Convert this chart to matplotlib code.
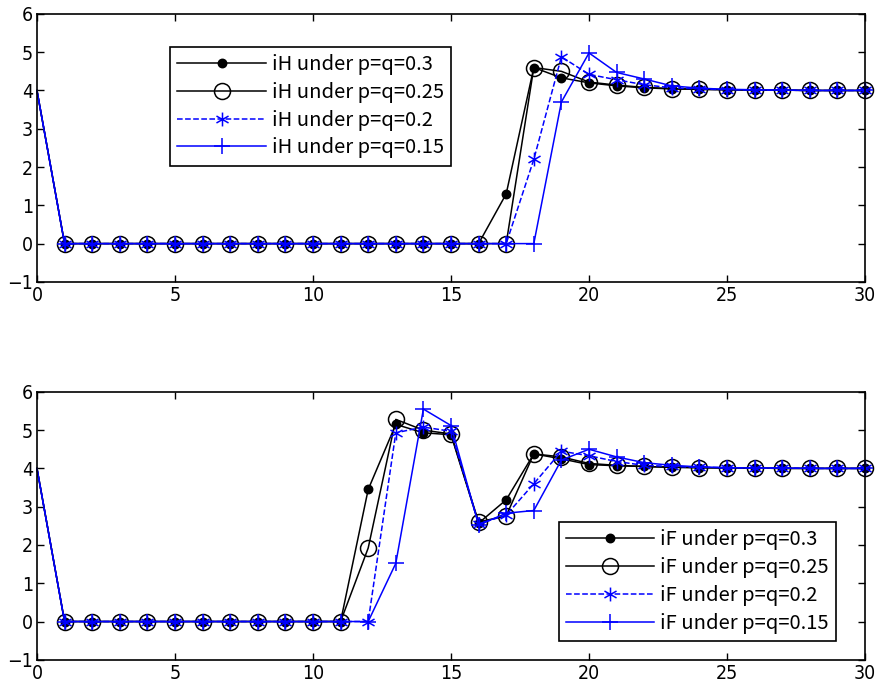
import matplotlib
matplotlib.use("Agg")
import matplotlib.pyplot as plt
from matplotlib.path import Path
from matplotlib import font_manager

x = list(range(31))

# top panel: iH
ih_03 = [4, 0, 0, 0, 0, 0, 0, 0, 0, 0, 0, 0, 0, 0, 0, 0, 0,
         1.3, 4.6, 4.33, 4.2, 4.12, 4.07, 4.04, 4.03, 4.02, 4.01, 4.01, 4.0, 4.0, 4.0]
ih_025 = [4, 0, 0, 0, 0, 0, 0, 0, 0, 0, 0, 0, 0, 0, 0, 0, 0,
          0, 4.6, 4.5, 4.22, 4.14, 4.08, 4.05, 4.03, 4.02, 4.01, 4.01, 4.0, 4.0, 4.0]
ih_02 = [4, 0, 0, 0, 0, 0, 0, 0, 0, 0, 0, 0, 0, 0, 0, 0, 0,
         0, 2.2, 4.88, 4.42, 4.28, 4.15, 4.07, 4.04, 4.02, 4.01, 4.01, 4.0, 4.0, 4.0]
ih_015 = [4, 0, 0, 0, 0, 0, 0, 0, 0, 0, 0, 0, 0, 0, 0, 0, 0,
          0, 0, 3.7, 4.98, 4.47, 4.3, 4.12, 4.06, 4.03, 4.02, 4.01, 4.0, 4.0, 4.0]

# bottom panel: iF
if_03 = [4, 0, 0, 0, 0, 0, 0, 0, 0, 0, 0, 0,
         3.45, 5.15, 4.93, 4.88, 2.57, 3.18, 4.38, 4.25, 4.1, 4.07, 4.05, 4.03,
         4.02, 4.01, 4.01, 4.0, 4.0, 4.0, 4.0]
if_025 = [4, 0, 0, 0, 0, 0, 0, 0, 0, 0, 0, 0,
          1.92, 5.28, 5.0, 4.9, 2.6, 2.76, 4.38, 4.3, 4.13, 4.08, 4.05, 4.03,
          4.02, 4.01, 4.01, 4.0, 4.0, 4.0, 4.0]
if_02 = [4, 0, 0, 0, 0, 0, 0, 0, 0, 0, 0, 0,
         0, 4.93, 5.08, 4.97, 2.55, 2.78, 3.6, 4.45, 4.33, 4.18, 4.08, 4.05,
         4.03, 4.02, 4.01, 4.01, 4.0, 4.0, 4.0]
if_015 = [4, 0, 0, 0, 0, 0, 0, 0, 0, 0, 0, 0,
          0, 1.52, 5.55, 5.12, 2.52, 2.83, 2.9, 4.22, 4.5, 4.3, 4.15, 4.08,
          4.04, 4.02, 4.01, 4.01, 4.0, 4.0, 4.0]

labels = ["under p=q=0.3", "under p=q=0.25", "under p=q=0.2", "under p=q=0.15"]

# matlab style asterisk
star = Path([(0, -1), (0, 1), (-0.87, -0.5), (0.87, 0.5), (-0.87, 0.5), (0.87, -0.5)],
            [Path.MOVETO, Path.LINETO, Path.MOVETO, Path.LINETO, Path.MOVETO, Path.LINETO])

styles = [
    dict(color="black", ls="-", marker="o", ms=6, mfc="black"),
    dict(color="black", ls="-", marker="o", ms=11.5, mfc="none"),
    dict(color="blue", ls="--", marker=star, ms=10),
    dict(color="blue", ls="-", marker="+", ms=12),
]

# narrow font for tick labels if one is around
names = {f.name for f in font_manager.fontManager.ttflist}
tick_prop = font_manager.FontProperties(family="DejaVu Sans", stretch="condensed", size=14)
if "Liberation Sans Narrow" in names:
    tick_prop = font_manager.FontProperties(family="Liberation Sans Narrow", size=14)
leg_font = ["Noto Sans CJK JP", "DejaVu Sans"]

fig = plt.figure(figsize=(8.8, 6.96), dpi=100)
ax1 = fig.add_axes([0.042, 0.595, 0.941, 0.385])
ax2 = fig.add_axes([0.042, 0.052, 0.941, 0.385])


def draw(ax, series, prefix, loc, anchor):
    for ys, lab, st in zip(series, labels, styles):
        ax.plot(x, ys, lw=1.1, mew=1.1, markevery=slice(1, None), clip_on=False,
                label=prefix + " " + lab, **st)
    ax.set_xlim(0, 30)
    ax.set_ylim(-1, 6)
    ax.set_xticks([0, 5, 10, 15, 20, 25, 30])
    ax.set_yticks([-1, 0, 1, 2, 3, 4, 5, 6])
    ax.set_yticklabels(["\u22121", "0", "1", "2", "3", "4", "5", "6"])
    ax.tick_params(direction="in", top=True, right=True, length=5, width=1, pad=3)
    for t in ax.get_xticklabels() + ax.get_yticklabels():
        t.set_fontproperties(tick_prop)
    for s in ax.spines.values():
        s.set_linewidth(1.2)
    leg = ax.legend(loc=loc, bbox_to_anchor=anchor, borderaxespad=0,
                    fancybox=False, edgecolor="black", framealpha=1,
                    prop={"family": leg_font, "size": 14.5}, handlelength=4.4,
                    labelspacing=0.34, borderpad=0.35, handletextpad=0.3)
    leg.get_frame().set_linewidth(1.2)


draw(ax1, [ih_03, ih_025, ih_02, ih_015], "iH", "upper left", (0.161, 0.877))
draw(ax2, [if_03, if_025, if_02, if_015], "iF", "lower right", (0.965, 0.071))

fig.savefig("out.png", dpi=100)
